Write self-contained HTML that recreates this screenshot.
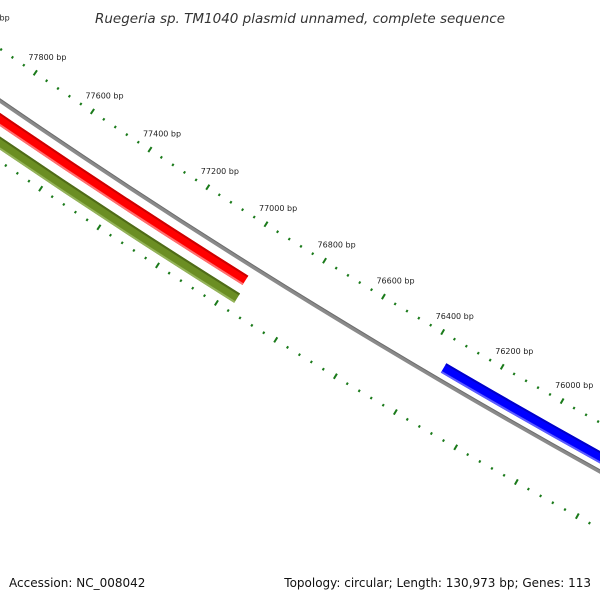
<!DOCTYPE html>
<html><head><meta charset="utf-8"><style>
html,body{margin:0;padding:0;background:#fff;width:600px;height:600px;overflow:hidden;}
svg{display:block;font-family:"DejaVu Sans","Liberation Sans",sans-serif;overflow:hidden;}
</style></head><body>
<svg id="map" width="600" height="600" viewBox="0 0 600 600">
<text x="300" y="23" text-anchor="middle" font-size="13.5" font-style="italic" fill="#333">Ruegeria sp. TM1040 plasmid unnamed, complete sequence</text>
<g id="layer"></g>
<text x="9" y="587" font-size="12" fill="#111">Accession: NC_008042</text>
<text x="591" y="587" font-size="12" text-anchor="end" fill="#111">Topology: circular; Length: 130,973 bp; Genes: 113</text>
</svg>
<script>
const seqLength = 130973;
const tickStart = 75600;
const tickEnd = 78200;
const featureNames = ['feature-red','feature-green','feature-blue'];
const featureStarts = [76964, 76957, 74000];
const featureEnds = [79000, 79000, 76345];

const NS = 'http://www.w3.org/2000/svg';
const layer = document.getElementById('layer');
const CX = 4156, CY = -5953;
const ALPHA0 = 122.2, BP0 = 77000, RATE = 0.985;
function alpha(bp){ return (ALPHA0 + RATE * (bp - BP0) * 360 / seqLength) * Math.PI / 180; }
function pt(bp, r){ const a = alpha(bp); return [CX + r*Math.cos(a), CY + r*Math.sin(a)]; }
function arc(bp1, bp2, r, color, w, name){
  const p1 = pt(bp1, r), p2 = pt(bp2, r);
  const p = document.createElementNS(NS,'path');
  p.setAttribute('d', `M${p1[0]},${p1[1]} A${r},${r} 0 0 0 ${p2[0]},${p2[1]}`);
  p.setAttribute('fill','none'); p.setAttribute('stroke',color); p.setAttribute('stroke-width',w);
  
  
  layer.appendChild(p);
}
function line(bp, r1, r2, color, w, name){
  const a = pt(bp, r1), b = pt(bp, r2);
  const l = document.createElementNS(NS,'line');
  l.setAttribute('x1',a[0]); l.setAttribute('y1',a[1]); l.setAttribute('x2',b[0]); l.setAttribute('y2',b[1]);
  l.setAttribute('stroke',color); l.setAttribute('stroke-width',w);
  
  
  layer.appendChild(l);
}
arc(79500, 74000, 7343, '#8a8a8a', 4, 'backbone');
arc(79500, 74000, 7341.5, '#6e6e6e', 1, 'backbone-edge');
const fcol = [['#ff0000','#cc0000','#ff7070'],['#6b8e23','#4f6b18','#94b35a'],['#0000ff','#0000c8','#5c5cff']];
const fr = [7358.5, 7378, 7330.5];
for (let i=0;i<featureNames.length;i++){
  arc(featureEnds[i], featureStarts[i], fr[i], fcol[i][0], 11, featureNames[i]);
  arc(featureEnds[i], featureStarts[i], fr[i]-4.5, fcol[i][1], 2, featureNames[i]+'-dark-edge');
  arc(featureEnds[i], featureStarts[i], fr[i]+4.5, fcol[i][2], 2, featureNames[i]+'-light-edge');
}
for (let bp = tickStart; bp <= tickEnd; bp += 40){
  const major = bp % 200 === 0;
  if (major){
    line(bp, 7297, 7303, '#1a7a1a', 2, 'outer-major-tick');
    line(bp, 7390, 7396, '#1a7a1a', 2, 'inner-major-tick');
    const p = pt(bp, 7300);
    const t = document.createElementNS(NS,'text');
    t.setAttribute('x', p[0]-7); t.setAttribute('y', p[1]-13);
    t.setAttribute('font-size','8'); t.setAttribute('fill','#222');
    t.textContent = bp + ' bp';
    
    
    layer.appendChild(t);
  } else {
    line(bp, 7299, 7301.5, '#1a7a1a', 2, 'outer-minor-tick');
    line(bp, 7392, 7394.5, '#1a7a1a', 2, 'inner-minor-tick');
  }
}
</script>
</body></html>
